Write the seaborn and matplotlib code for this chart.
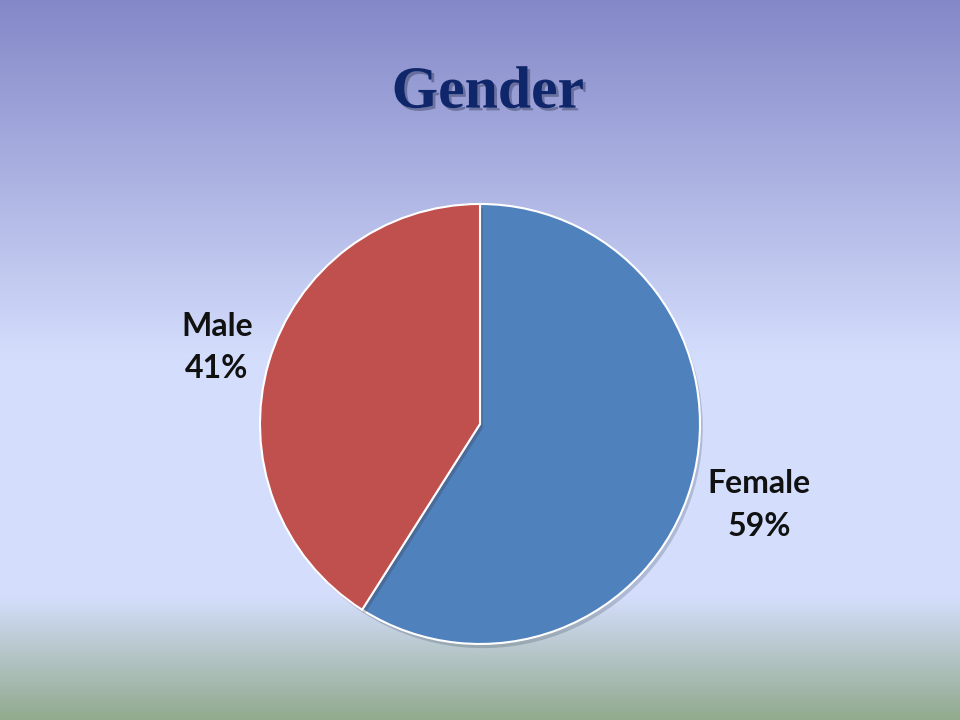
import matplotlib
matplotlib.use("Agg")
import matplotlib.pyplot as plt
import matplotlib.patheffects as pe
from matplotlib.colors import LinearSegmentedColormap
import numpy as np
import seaborn as sns

labels = ["Female", "Male"]
shares = [59, 41]
colors = ["#4f81bd", "#c0504d"]
title = "Gender"

sns.set_style("white")
plt.rcParams["font.family"] = ["Lato", "DejaVu Sans"]

fig = plt.figure(figsize=(9.6, 7.2), dpi=100)

# slide background gradient
bg = fig.add_axes([0, 0, 1, 1], zorder=0)
bg_cmap = LinearSegmentedColormap.from_list(
    "slide",
    [(0.0, "#8488c8"), (0.5, "#d4defc"), (0.83, "#d4defc"), (1.0, "#92aa8e")],
)
bg.imshow(np.linspace(0, 1, 256).reshape(-1, 1), aspect="auto", cmap=bg_cmap,
          extent=[0, 1, 0, 1], origin="upper")
bg.set_axis_off()

ax = fig.add_axes([0.2708, 0.1056, 0.4584, 0.6111], zorder=1)
wedges, _ = ax.pie(
    shares,
    colors=colors,
    startangle=90,
    counterclock=False,
    wedgeprops=dict(edgecolor="white", linewidth=1.5),
)
for w in wedges:
    w.set_path_effects([pe.SimplePatchShadow(offset=(2, -3), alpha=0.2), pe.Normal()])
ax.set_xlim(-1, 1)
ax.set_ylim(-1, 1)
ax.set_aspect("equal")

# data labels outside the pie
for lab, val, w in zip(labels, shares, wedges):
    ang = np.deg2rad((w.theta1 + w.theta2) / 2)
    r = 1.32 if lab == "Female" else 1.245
    ax.text(r * np.cos(ang), r * np.sin(ang), f"{lab}\n{val}%",
            ha="center", va="center", fontsize=23, fontweight="bold",
            color="#111111", linespacing=1.55, clip_on=False)

fig.text(0.508, 0.87, title, ha="center", va="center",
         fontsize=43, fontweight="bold", color="#10266a",
         family=["Liberation Serif", "DejaVu Serif"],
         path_effects=[pe.withSimplePatchShadow(offset=(2, -2), alpha=0.3)])

fig.savefig("out.png", dpi=100)
